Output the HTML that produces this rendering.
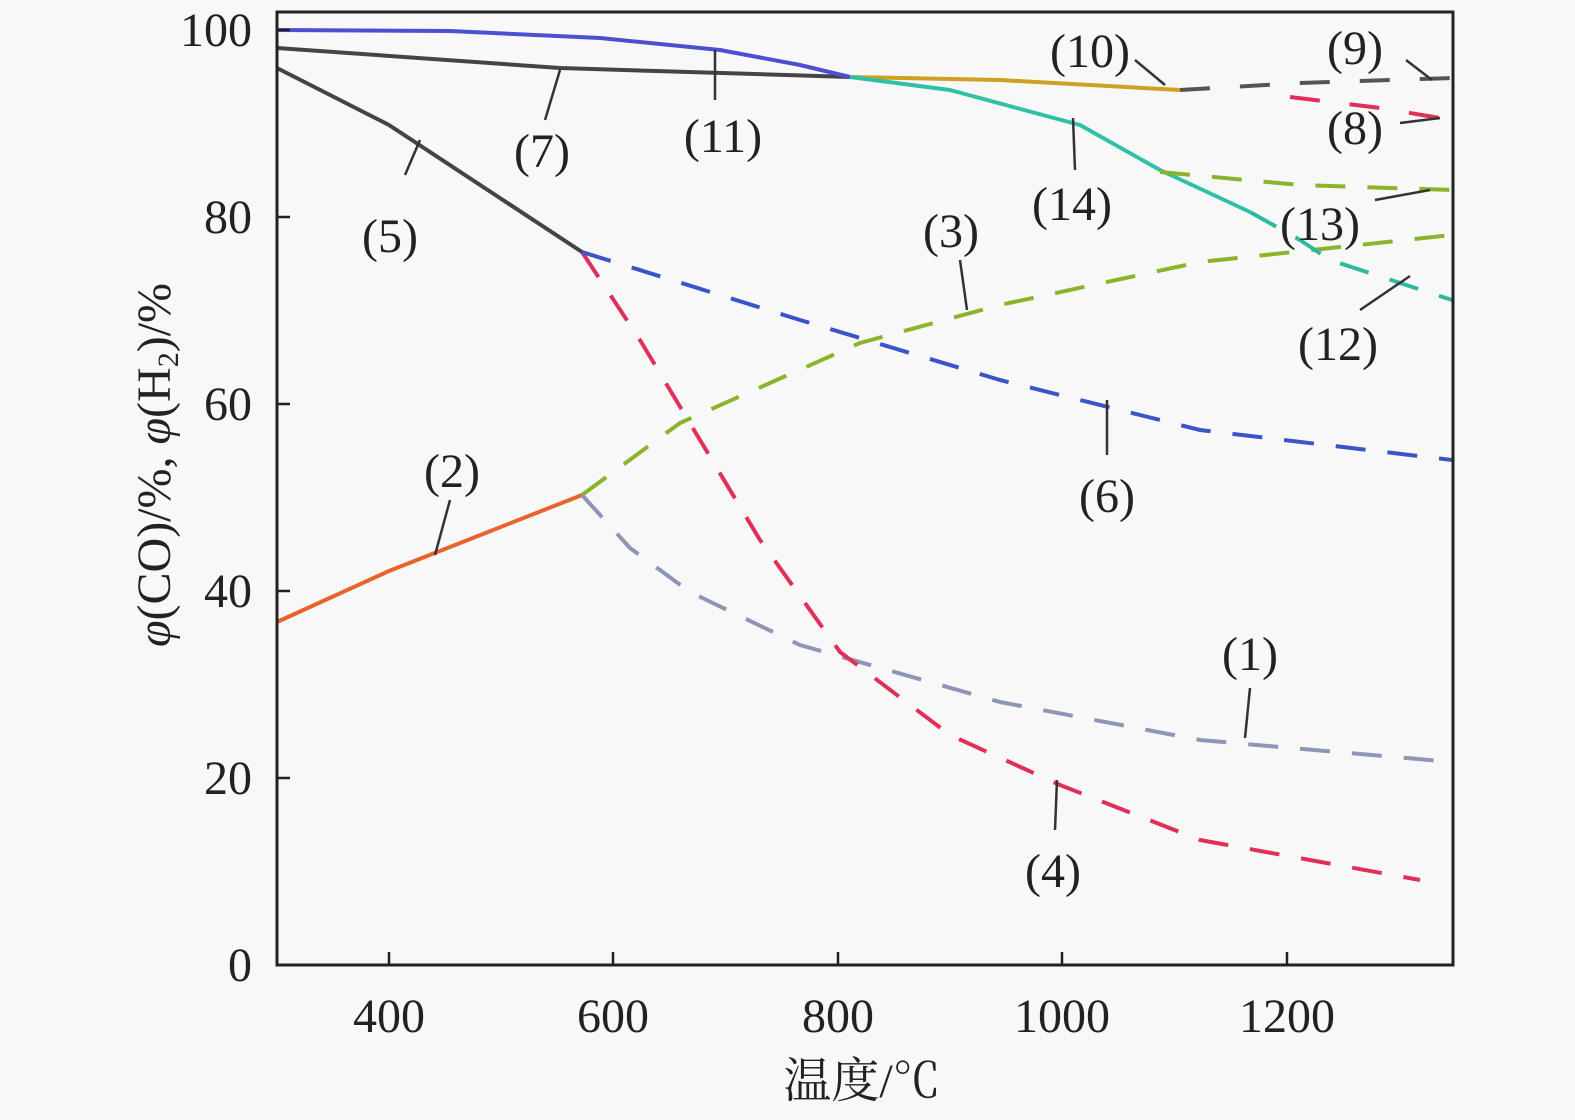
<!DOCTYPE html>
<html><head><meta charset="utf-8"><style>
body{margin:0;background:#f8f8f8;}
svg{display:block;font-family:"Liberation Serif","Noto Serif CJK SC",serif;}
text{font-size:48px;fill:#222;}
</style></head><body>
<svg width="1575" height="1120" viewBox="0 0 1575 1120">
<rect width="1575" height="1120" fill="#f8f8f8"/>
<g fill="none" stroke-width="4" stroke-linejoin="round">
<polyline points="277,622 389,571 582,495" stroke="#e8642a"/>
<polyline points="582,495 680,423 860,343 1000,305 1200,262 1452,235" stroke="#8cb42a" stroke-dasharray="30,22"/>
<polyline points="582,495 630,548 690,592 800,645 1000,702 1200,740 1452,762" stroke="#8f95b5" stroke-dasharray="30,22"/>
<polyline points="582,252 640,340 700,440 760,540 840,652 950,735 1060,785 1200,840 1420,880" stroke="#e0305a" stroke-dasharray="30,22"/>
<polyline points="277,68 389,125 582,252" stroke="#444"/>
<polyline points="582,252 800,320 1000,380 1200,430 1452,460" stroke="#3a55c8" stroke-dasharray="30,22"/>
<polyline points="277,48 560,68 850,77" stroke="#444"/>
<polyline points="277,30 450,31 600,38 720,50 800,65 850,77" stroke="#4a50d0"/>
<polyline points="850,77 1000,80 1180,90" stroke="#d0a020"/>
<polyline points="850,77 950,90 1080,125 1160,170 1250,212" stroke="#30c0a8"/>
<polyline points="1250,212 1300,240 1330,260 1452,300" stroke="#30b8a0" stroke-dasharray="30,22"/>
<polyline points="1160,172 1300,185 1452,190" stroke="#8cb42a" stroke-dasharray="30,22"/>
<polyline points="1180,90 1300,83 1452,78" stroke="#555" stroke-dasharray="30,30"/>
<polyline points="1290,97 1380,108 1452,120" stroke="#e0305a" stroke-dasharray="30,30"/>
</g>
<g stroke="#333" stroke-width="2.5" fill="none">
<line x1="435" y1="555" x2="450" y2="500"/>
<line x1="967" y1="310" x2="960" y2="260"/>
<line x1="1245" y1="738" x2="1250" y2="688"/>
<line x1="1057" y1="780" x2="1055" y2="830"/>
<line x1="405" y1="175" x2="420" y2="140"/>
<line x1="1107" y1="400" x2="1107" y2="455"/>
<line x1="545" y1="120" x2="560" y2="70"/>
<line x1="715" y1="100" x2="715" y2="50"/>
<line x1="1165" y1="85" x2="1135" y2="60"/>
<line x1="1075" y1="170" x2="1073" y2="118"/>
<line x1="1375" y1="200" x2="1430" y2="190"/>
<line x1="1360" y1="310" x2="1410" y2="276"/>
<line x1="1406" y1="60" x2="1432" y2="80"/>
<line x1="1400" y1="123" x2="1440" y2="118"/>
</g>
<rect x="277" y="12" width="1176" height="953" fill="none" stroke="#222" stroke-width="3"/>
<g stroke="#222" stroke-width="2.5">
<line x1="389" y1="965" x2="389" y2="952"/><line x1="613" y1="965" x2="613" y2="952"/>
<line x1="838" y1="965" x2="838" y2="952"/><line x1="1062" y1="965" x2="1062" y2="952"/>
<line x1="1287" y1="965" x2="1287" y2="952"/>
<line x1="277" y1="778" x2="290" y2="778"/><line x1="277" y1="591" x2="290" y2="591"/>
<line x1="277" y1="404" x2="290" y2="404"/><line x1="277" y1="217" x2="290" y2="217"/>
<line x1="277" y1="30" x2="290" y2="30"/>
</g>
<g text-anchor="end">
<text x="252" y="981">0</text><text x="252" y="794">20</text><text x="252" y="607">40</text>
<text x="252" y="420">60</text><text x="252" y="233">80</text><text x="252" y="46">100</text>
</g>
<g text-anchor="middle">
<text x="389" y="1032">400</text><text x="613" y="1032">600</text><text x="838" y="1032">800</text>
<text x="1062" y="1032">1000</text><text x="1287" y="1032">1200</text>
<text x="862" y="1097">温度/℃</text>
<text transform="translate(170,465) rotate(-90)"><tspan font-style="italic">φ</tspan>(CO)/%, <tspan font-style="italic">φ</tspan>(H<tspan font-size="30" dy="8">2</tspan><tspan dy="-8">)/%</tspan></text>
<text x="452" y="487">(2)</text><text x="951" y="247">(3)</text><text x="1250" y="670">(1)</text>
<text x="1053" y="887">(4)</text><text x="390" y="252">(5)</text><text x="1107" y="512">(6)</text>
<text x="542" y="167">(7)</text><text x="723" y="152">(11)</text><text x="1090" y="67">(10)</text>
<text x="1072" y="220">(14)</text><text x="1320" y="240">(13)</text><text x="1338" y="360">(12)</text>
<text x="1355" y="64">(9)</text><text x="1355" y="144">(8)</text>
</g>
</svg>
</body></html>
